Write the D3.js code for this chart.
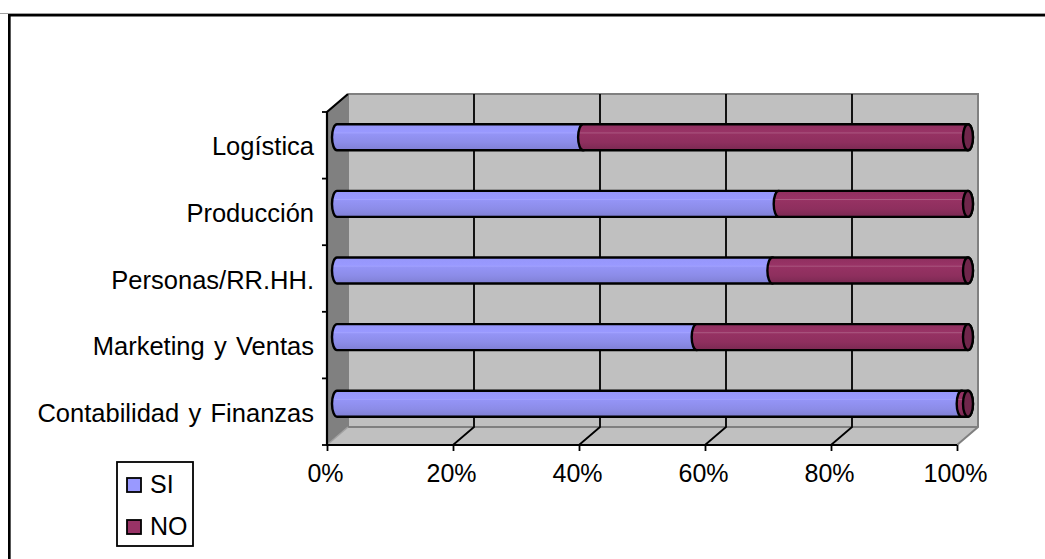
<!DOCTYPE html>
<html><head><meta charset="utf-8"><script src="https://cdn.jsdelivr.net/npm/d3@7"></script>
<style>html,body{margin:0;background:#fff;overflow:hidden}svg{display:block}text{font-family:"Liberation Sans",Arial,sans-serif;fill:#000}</style></head><body>
<script>
const categories=["Contabilidad y Finanzas","Marketing y Ventas","Personas/RR.HH.","Producción","Logística"];
const siValues=[99,57,69,70,39];
const noValues=[1,43,31,30,61];
const seriesNames=["SI","NO"];
const xTicks=[0,20,40,60,80,100];
const W=1045,H=559;
const svg=d3.select("body").append("svg").attr("width",W).attr("height",H);
const defs=svg.append("defs");
function grad(id,stops){const g=defs.append("linearGradient").attr("id",id).attr("x1",0).attr("x2",0).attr("y1",0).attr("y2",1);
 stops.forEach(([o,c])=>g.append("stop").attr("offset",o).attr("stop-color",c));}
grad("gSI",[[0,"#9696fa"],[.3,"#9999ff"],[.33,"#a3a3ff"],[.37,"#9494f6"],[.7,"#8c8ce8"],[1,"#7f7fd4"]]);
grad("gNO",[[0,"#8f2f5f"],[.3,"#993366"],[.33,"#ab5a82"],[.37,"#963263"],[.7,"#8e2f5e"],[1,"#7a2952"]]);
// frame: only top and left edges are visible
svg.append("rect").attr("x",0).attr("y",13).attr("width",W).attr("height",1).attr("fill","#a0a0a0");
svg.append("rect").attr("x",10).attr("y",16).attr("width",1).attr("height",H).attr("fill","#b0b0b0");
svg.append("rect").attr("x",8).attr("y",14).attr("width",W).attr("height",2.5).attr("fill","#000");
svg.append("rect").attr("x",8).attr("y",14).attr("width",2.5).attr("height",H).attr("fill","#000");
const x0=327,x1=957,yT=112,yB=445,dx=21,dy=-18;
const xAxisScale=d3.scaleLinear().domain([0,100]).range([x0,x1]);
const yBand=d3.scaleBand().domain(categories).range([yB,yT]);
const xBar=d3.scaleLinear().domain([0,100]).range([337,968]);
const g=svg.append("g");
// walls
g.append("path").attr("d",d3.line()([[x0,yT],[x0+dx,yT+dy],[x0+dx,yB+dy],[x0,yB]])+"Z").attr("fill","#808080");
g.append("path").attr("d",d3.line()([[x0,yB],[x0+dx,yB+dy],[x1+dx,yB+dy],[x1,yB]])+"Z").attr("fill","#c0c0c0");
g.append("rect").attr("x",x0+dx).attr("y",yT+dy).attr("width",x1-x0).attr("height",yB-yT).attr("fill","#c0c0c0");
g.append("path").attr("d",d3.line()([[x0+dx,yT+dy],[x1+dx,yT+dy],[x1+dx,yB+dy],[x1,yB]])).attr("fill","none").attr("stroke","#808080").attr("stroke-width",2);
g.append("path").attr("d",d3.line()([[x0+dx,yT+dy],[x0+dx,yB+dy],[x1+dx,yB+dy]])).attr("fill","none").attr("stroke","#808080").attr("stroke-width",2);
g.append("line").attr("x1",x0).attr("y1",yB).attr("x2",x0+dx).attr("y2",yB+dy).attr("stroke","#a0a0a0").attr("stroke-width",1.5);
// gridlines
xTicks.slice(1,-1).forEach(t=>{const x=xAxisScale(t);
 g.append("path").attr("d",d3.line()([[x,yB],[x+dx,yB+dy],[x+dx,yT+dy]])).attr("fill","none").attr("stroke","#000").attr("stroke-width",1.8);});
// axes
g.append("path").attr("d",d3.line()([[x0+dx,yT+dy],[x0,yT],[x0,yB],[x1,yB]])).attr("fill","none").attr("stroke","#000").attr("stroke-width",2.2);
const ax=g.append("g").attr("transform",`translate(0,${yB})`).call(d3.axisBottom(xAxisScale).tickValues(xTicks).tickFormat(d=>d+"%").tickSize(6).tickPadding(13));
ax.select(".domain").remove();ax.selectAll("line").attr("stroke","#000").attr("stroke-width",1.8);
ax.selectAll("text").attr("font-size",25).attr("dx",-2).attr("font-family",'"Liberation Sans",Arial,sans-serif');
categories.forEach(c=>{const yc=yBand(c)+yBand.bandwidth()/2;
 g.append("text").attr("x",314).attr("y",yc+10).attr("text-anchor","end").attr("font-size",25.5).attr("word-spacing",2.2).text(c);});
d3.range(categories.length+1).forEach(i=>{const y=yB-i*yBand.step();
 g.append("line").attr("x1",x0-5).attr("x2",x0).attr("y1",y).attr("y2",y).attr("stroke","#000").attr("stroke-width",1.8);});
// bars
const h=26,rx=5;
categories.forEach((c,i)=>{const yc=yBand(c)+yBand.bandwidth()/2-8;
 const a=xBar(0),b=xBar(siValues[i]),e=xBar(siValues[i]+noValues[i]);
 const t=yc-h/2,bt=yc+h/2;
 const cyl=(l,r,fill)=>g.append("path").attr("d",`M${l},${t}L${r},${t}A${rx},${h/2} 0 0 1 ${r},${bt}L${l},${bt}A${rx},${h/2} 0 0 1 ${l},${t}Z`).attr("fill",fill).attr("stroke","#000").attr("stroke-width",2.4);
 cyl(a,b,"url(#gSI)");
 cyl(b,e,"url(#gNO)");
 g.append("ellipse").attr("cx",e).attr("cy",yc).attr("rx",rx).attr("ry",h/2).attr("fill","#70264b").attr("stroke","#000").attr("stroke-width",2.4);
});
// legend
svg.append("rect").attr("x",117).attr("y",462).attr("width",76).attr("height",84).attr("fill","#fff").attr("stroke","#000").attr("stroke-width",1.8);
seriesNames.forEach((s,i)=>{const y=485+i*42;
 svg.append("rect").attr("x",127).attr("y",y-7).attr("width",14).attr("height",14).attr("fill",i?"#993366":"#9999ff").attr("stroke","#000").attr("stroke-width",1.8);
 svg.append("text").attr("x",150).attr("y",y+8).attr("font-size",25).text(s);});
</script></body></html>
